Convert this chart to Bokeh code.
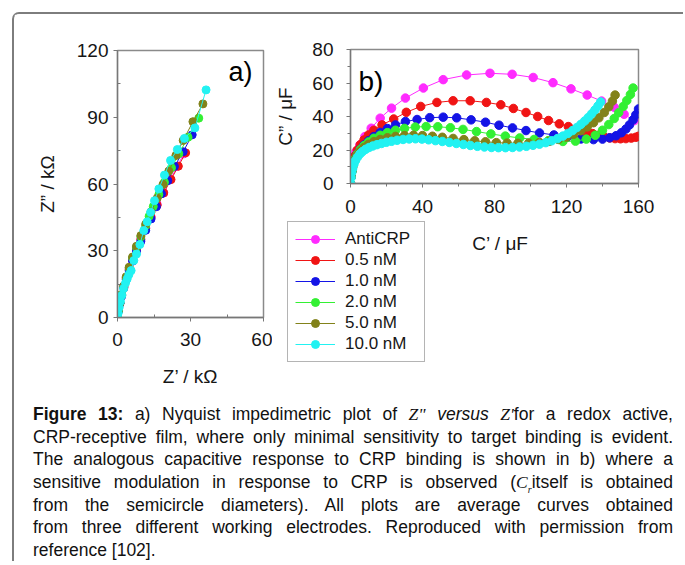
from bokeh.plotting import figure
from bokeh.models import Range1d, FixedTicker, Label, Legend, LegendItem, Div
from bokeh.layouts import row, column
from bokeh.embed import file_html
from bokeh.resources import INLINE

FONT = "Liberation Sans"

series_names = ["AntiCRP", "0.5 nM", "1.0 nM", "2.0 nM", "5.0 nM", "10.0 nM"]
series_colors = ["#ff2bff", "#f01414", "#1414e6", "#33f033", "#82821a", "#22f2f2"]

# ---- panel a) Nyquist: Z'' vs Z' (kOhm)
a_anti_x = [0, 0.4, 1.0, 1.7, 2.6, 3.6, 4.8, 6.2, 7.8, 9.6, 11.6, 13.8, 16.3, 19.0, 21.7, 24.5, 27.2]
a_anti_y = [0, 3, 6.5, 10, 14, 18, 22, 26.5, 31, 35.5, 40.5, 45.5, 51, 56, 62, 67.9, 73.5]
a_05_x = [0, 0.4, 1.0, 1.7, 2.6, 3.6, 4.8, 6.2, 7.8, 9.6, 11.6, 13.8, 16.3, 19.0, 22.0, 25.0, 28.0]
a_05_y = [0, 3, 6.3, 9.8, 13.6, 17.5, 21.5, 26, 30.5, 35, 40, 45, 50.5, 56, 62, 68, 74]
a_10_x = [0, 0.4, 1.0, 1.7, 2.6, 3.6, 4.8, 6.2, 7.8, 9.6, 11.6, 13.8, 16.0, 18.1, 20.7, 23.4, 27.0, 30.7]
a_10_y = [0, 3, 6.3, 9.6, 13.3, 17, 21, 25.3, 29.8, 34.3, 39.2, 44.3, 49.8, 55.6, 61.5, 67.9, 74.5, 82.1]
a_20_x = [0, 0.4, 1.0, 1.7, 2.6, 3.6, 4.8, 6.2, 7.8, 9.6, 11.6, 13.0, 14.7, 17.0, 19.3, 22.2, 25.2, 29.0, 33.4]
a_20_y = [0, 3.2, 6.6, 10.2, 14, 18, 22.3, 26.8, 31.5, 36.3, 41.3, 45.5, 49.9, 55.3, 60.8, 67.3, 73.6, 81, 89.6]
a_50_x = [0, 0.4, 1.0, 1.7, 2.6, 3.6, 4.8, 6.2, 7.8, 9.6, 11.6, 13.8, 16.3, 18.7, 21.1, 24.0, 27.0, 31.0, 35.1]
a_50_y = [0, 3.2, 6.6, 10.3, 14.2, 18.3, 22.6, 27.2, 32, 36.8, 42, 47.5, 53.6, 59.8, 65.8, 72.8, 79.6, 88, 96]
a_100_x = [0, 0.3, 0.7, 1.2, 1.8, 2.5, 3.3, 4.0, 4.7, 5.6, 6.7, 7.8, 9.2, 10.8, 12.2, 13.6, 15.2, 17.0, 19.3, 21.8, 24.6, 27.5, 31.8, 36.4]
a_100_y = [0, 2, 4.5, 7.2, 10, 13, 15.5, 17.4, 19.3, 21.1, 25.6, 28.5, 32.8, 39.1, 43, 47.3, 52.5, 57.8, 64, 70.6, 75.5, 80.5, 85.2, 102.3]

# ---- panel b) capacitance: C'' vs C' (uF)
b_anti_x = [0, 0.3, 0.8, 1.6, 3.0, 5.2, 8.0, 11.5, 16.5, 22.8, 30.5, 40.5, 51.5, 64.5, 77.5, 89.8, 101.5, 112.5, 122.5, 131.5, 139.5, 146.5, 152.0, 157.5]
b_anti_y = [0, 5, 10, 15, 19, 23, 28, 33, 39, 45, 51, 57, 62, 64.8, 65.8, 65.2, 63.3, 60.2, 56.5, 52.8, 49.2, 45.5, 41.3, 37.5]
b_05_x = [0, 0.3, 0.8, 1.5, 2.5, 3.8, 5.5, 7.5, 10, 13, 17.5, 24, 31, 39, 48, 57, 66.5, 75.5, 83.5, 90.5, 97.5, 104, 110, 116, 121, 126, 130.5, 134.5, 138, 141, 144, 147, 150, 153, 156, 158.5, 160]
b_05_y = [0, 4, 8.5, 12.5, 16.5, 20, 23.2, 26, 29, 31.8, 35, 38.5, 42.5, 46, 48.4, 49.4, 49.4, 48.4, 47, 44.8, 42.4, 40, 37.6, 35.6, 34, 32.4, 31, 29.8, 28.8, 27.8, 27.2, 26.8, 26.7, 26.8, 27.1, 27.6, 28.2]
b_10_x = [0, 0.3, 0.8, 1.5, 2.5, 3.8, 5.5, 7.5, 10, 13, 16.5, 20.5, 25, 30.5, 37, 44, 51.5, 59, 67, 75, 82.5, 90, 97.5, 105, 113, 120.5, 128, 135, 140, 144, 147.5, 150.5, 153, 155, 157, 158.5, 160]
b_10_y = [0, 4, 7.5, 11, 14.5, 17.5, 20.5, 23, 25.5, 28, 30.5, 32.8, 35, 37, 38.2, 39.3, 39.6, 39.2, 38, 36.6, 34.8, 33.2, 31.6, 30.2, 29, 27.7, 26.6, 26.2, 26.5, 27.3, 28.5, 30.3, 32.5, 35, 38, 41, 44.5]
b_20_x = [0, 0.3, 0.8, 1.5, 2.5, 3.8, 5.5, 7.5, 10, 13, 16.5, 20.5, 25, 30, 36, 42, 48.5, 55.5, 62.5, 70, 78, 86, 94, 102, 110, 118, 125, 131, 136, 140, 143.5, 146.5, 149, 151.5, 153.5, 155.5, 157]
b_20_y = [0, 4, 7.5, 11, 14.5, 17.5, 20.3, 22.6, 24.8, 27, 28.8, 30.4, 31.8, 32.9, 33.7, 34.0, 33.9, 33.3, 32.3, 31.0, 29.6, 28.3, 27.2, 26.3, 25.6, 25.1, 25.3, 26.5, 28.8, 31.8, 35.2, 38.8, 42.3, 46, 49.5, 53.2, 57]
b_50_x = [0, 0.3, 0.8, 1.5, 2.5, 3.8, 5.5, 7.5, 10, 13, 16.5, 20.5, 25, 30, 35, 40, 45.5, 51, 57, 63, 69, 75, 81, 87, 93, 99, 105, 110.5, 115.5, 120, 124, 128, 131.5, 135, 138, 141, 143.5, 145.5, 147]
b_50_y = [0, 4, 7.5, 10.8, 14, 16.8, 19.4, 21.5, 23.4, 25, 26.3, 27.3, 28.1, 28.6, 28.8, 28.6, 28.2, 27.6, 26.9, 26.2, 25.5, 24.9, 24.4, 24.1, 24.0, 24.1, 24.5, 25.2, 26.3, 27.7, 29.4, 31.5, 33.8, 36.3, 39.2, 42.4, 45.8, 49.2, 52.8]
b_100_x = [0, 0.3, 0.7, 1.2, 1.9, 2.8, 3.9, 5.2, 6.7, 8.4, 10.3, 12.4, 14.7, 17.2, 19.9, 22.8, 25.9, 29.2, 32.6, 36.1, 39.7, 43.4, 47.2, 51, 54.9, 58.8, 62.7, 66.6, 70.5, 74.4, 78.3, 82.2, 86.1, 90, 93.9, 97.7, 101.4, 105, 108.5, 111.8, 115, 118, 120.8, 123.4, 125.8, 128, 130.1, 132.1, 134, 135.8, 137.5, 139]
b_100_y = [0, 3.5, 6.5, 9, 11.5, 13.8, 15.8, 17.6, 19.1, 20.4, 21.5, 22.4, 23.2, 23.9, 24.6, 25.2, 25.8, 26.3, 26.6, 26.7, 26.5, 26.1, 25.6, 25.1, 24.5, 23.9, 23.3, 22.7, 22.2, 21.8, 21.5, 21.4, 21.4, 21.5, 21.8, 22.2, 22.8, 23.5, 24.4, 25.5, 26.8, 28.3, 29.9, 31.6, 33.4, 35.3, 37.3, 39.4, 41.6, 43.9, 46.3, 48.7]

a_ticks_x, a_minor_x = [0, 30, 60], [15, 45]
a_ticks_y, a_minor_y = [0, 30, 60, 90, 120], [15, 45, 75, 105]
b_ticks_x, b_minor_x = [0, 40, 80, 120, 160], [20, 60, 100, 140]
b_ticks_y, b_minor_y = [0, 20, 40, 60, 80], [10, 30, 50, 70]

a_series = [(a_anti_x, a_anti_y), (a_05_x, a_05_y), (a_10_x, a_10_y),
            (a_20_x, a_20_y), (a_50_x, a_50_y), (a_100_x, a_100_y)]
b_series = [(b_anti_x, b_anti_y), (b_05_x, b_05_y), (b_10_x, b_10_y),
            (b_20_x, b_20_y), (b_50_x, b_50_y), (b_100_x, b_100_y)]

AX = "#777777"
TXT = "#161616"


def style(p, xt, xm, yt, ym, minor_in, xstand, ystand, xlab_st, ylab_st):
    p.xaxis.ticker = FixedTicker(ticks=xt, minor_ticks=xm)
    p.yaxis.ticker = FixedTicker(ticks=yt, minor_ticks=ym)
    p.xgrid.visible = False
    p.ygrid.visible = False
    p.outline_line_color = "#8a8a8a"
    p.outline_line_width = 1.5
    p.background_fill_color = "white"
    p.border_fill_color = "white"
    for ax in (p.xaxis[0], p.yaxis[0]):
        ax.axis_line_color = AX
        ax.axis_line_width = 1.3
        ax.major_tick_line_color = AX
        ax.minor_tick_line_color = AX
        ax.major_tick_out = 4
        ax.major_tick_in = 0
        if minor_in:
            ax.minor_tick_in = 3
            ax.minor_tick_out = 0
        else:
            ax.minor_tick_in = 0
            ax.minor_tick_out = 3
        ax.major_label_text_font = FONT
        ax.major_label_text_font_size = "19px"
        ax.major_label_text_color = TXT
        ax.axis_label_text_font = FONT
        ax.axis_label_text_font_size = "19px"
        ax.axis_label_text_font_style = "normal"
        ax.axis_label_text_color = TXT
    p.xaxis[0].major_label_standoff = xstand
    p.yaxis[0].major_label_standoff = ystand
    p.xaxis[0].axis_label_standoff = xlab_st
    p.yaxis[0].axis_label_standoff = ylab_st


# ---------- figure a
pa = figure(width=258, height=381, output_backend="svg", toolbar_location=None,
            x_range=Range1d(0, 60), y_range=Range1d(0, 120), frame_align=False,
            min_border_left=103, min_border_right=9, min_border_top=36, min_border_bottom=78,
            x_axis_label="Z\u2019 / k\u03a9", y_axis_label="Z\u201d / k\u03a9")
style(pa, a_ticks_x, a_minor_x, a_ticks_y, a_minor_y, True, 11, 5, 17, 16)
for (xs, ys), c in zip(a_series, series_colors):
    pa.line(xs, ys, line_color=c, line_width=1)
    pa.scatter(xs, ys, marker="circle", size=8, fill_color=c, line_color=c)
pa.add_layout(Label(x=45.6, y=110.5, text="a)", text_font=FONT, text_font_size="27px",
                    text_color="#000000", text_baseline="alphabetic"))

# ---------- figure b (plot area and tick labels)
pb = figure(width=411, height=206, output_backend="svg", toolbar_location=None,
            x_range=Range1d(0, 160), y_range=Range1d(0, 80), frame_align=False,
            min_border_left=78, min_border_right=45, min_border_top=35, min_border_bottom=37,
            y_axis_label="C\u201d / \u03bcF")
style(pb, b_ticks_x, b_minor_x, b_ticks_y, b_minor_y, False, 12, 13, 0, 13)
for (xs, ys), c in zip(b_series, series_colors):
    pb.line(xs, ys, line_color=c, line_width=1)
    pb.scatter(xs, ys, marker="circle", size=8.5, fill_color=c, line_color=c)
pb.add_layout(Label(x=4.4, y=60.9, text="b)", text_font=FONT, text_font_size="28px",
                    text_color="#000000", text_baseline="alphabetic"))

# ---------- strip under b): x-axis title of b) and the legend (pixel ranges)
pl = figure(width=411, height=175, output_backend="svg", toolbar_location=None,
            x_range=Range1d(0, 411), y_range=Range1d(0, 175), frame_align=False,
            min_border=0)
pl.axis.visible = False
pl.grid.visible = False
pl.outline_line_color = None
pl.background_fill_color = "white"
pl.border_fill_color = "white"
items = []
for (xs, ys), c, name in zip(b_series, series_colors, series_names):
    # hidden copies of the b) series: they only supply the legend glyphs
    lr = pl.line(xs, ys, line_color=c, line_width=1, visible=False)
    sr = pl.scatter(xs, ys, marker="circle", size=8.5, fill_color=c, line_color=c, visible=False)
    items.append(LegendItem(label=name, renderers=[lr, sr]))
leg = Legend(items=items, location=(15, 33), orientation="vertical",
             label_text_font=FONT, label_text_font_size="17px", label_text_color=TXT,
             glyph_width=40, glyph_height=20, label_height=20, label_standoff=10,
             label_width=72, spacing=1, padding=7, margin=0,
             inactive_fill_alpha=0.0,
             border_line_color="#6a6a6a", border_line_width=1.5,
             background_fill_color="white", background_fill_alpha=1.0)
pl.add_layout(leg, "center")
pl.add_layout(Label(x=228, y=152, text="C\u2019 / \u03bcF", text_font=FONT, text_font_size="19px",
                    text_color=TXT, text_align="center", text_baseline="middle"))

# ---------- caption
SERIF = "font-family:'Liberation Serif','Times New Roman',serif;font-style:italic;"
J = "text-align:justify;text-align-last:justify;white-space:nowrap;height:22.7px;"
caption_lines = [
    "<b>Figure 13:</b> a) Nyquist impedimetric plot of <span style=\"%s\">Z\"</span> <i>versus</i> <span style=\"%s\">Z'</span>for a redox active," % (SERIF, SERIF),
    "CRP-receptive film, where only minimal sensitivity to target binding is evident.",
    "The analogous capacitive response to CRP binding is shown in b) where a",
    "sensitive modulation in response to CRP is observed (<span style=\"%s\">C<sub style=\"font-size:10px\">r</sub></span>itself is obtained" % SERIF,
    "from the semicircle diameters). All plots are average curves obtained",
    "from three different working electrodes. Reproduced with permission from",
]
last_line = "reference [102]."
html = ("<div style=\"font-family:'Liberation Sans',Arial,sans-serif;font-size:17.5px;"
        "line-height:22.7px;color:#111;padding-top:8px;width:640px;\">")
for ln in caption_lines:
    html += "<div style=\"%s\">%s</div>" % (J, ln)
html += "<div style=\"white-space:nowrap;height:14px;\">%s</div>" % last_line
html += "</div>"
cap = Div(text=html, width=640, height=166, margin=(0, 0, 0, 19))

root = column(row(pa, column(pb, pl)), cap, margin=(12, 0, 0, 12),
              styles={"border-left": "2px solid #7d7d7d", "border-top": "2px solid #7d7d7d",
                      "border-top-left-radius": "7px"})

open("out.html", "w").write(file_html(root, INLINE))
